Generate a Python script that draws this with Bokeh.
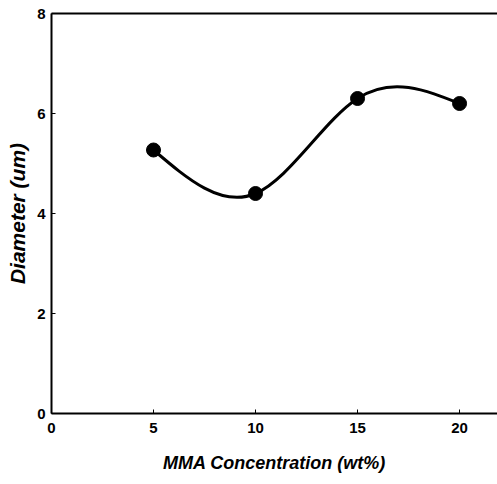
import numpy as np
from bokeh.plotting import figure
from bokeh.models import Range1d, LinearAxis, FixedTicker
from bokeh.embed import file_html
from bokeh.resources import INLINE

# Data
mma_conc = [5, 10, 15, 20]          # wt%
diameter = [5.27, 4.40, 6.30, 6.20]  # um
x_ticks = [0, 5, 10, 15, 20]
y_ticks = [0, 2, 4, 6, 8]

# Natural cubic spline through the data, drawn as exact Bezier segments
x = np.array(mma_conc, dtype=float)
y = np.array(diameter, dtype=float)
n = len(x)
h = np.diff(x)
A = np.zeros((n, n)); b = np.zeros(n)
A[0, 0] = 1; A[-1, -1] = 1
for i in range(1, n - 1):
    A[i, i - 1] = h[i - 1]
    A[i, i] = 2 * (h[i - 1] + h[i])
    A[i, i + 1] = h[i]
    b[i] = 6 * ((y[i + 1] - y[i]) / h[i] - (y[i] - y[i - 1]) / h[i - 1])
M = np.linalg.solve(A, b)
slopes = np.zeros(n)
for i in range(n - 1):
    slopes[i] = (y[i + 1] - y[i]) / h[i] - h[i] * (2 * M[i] + M[i + 1]) / 6
slopes[-1] = (y[-1] - y[-2]) / h[-1] + h[-1] * (M[-2] + 2 * M[-1]) / 6
x0 = x[:-1]; x1 = x[1:]; y0 = y[:-1]; y1 = y[1:]
cx0 = x0 + h / 3; cx1 = x1 - h / 3
cy0 = y0 + slopes[:-1] * h / 3; cy1 = y1 - slopes[1:] * h / 3

p = figure(width=497, height=484, output_backend="svg", toolbar_location=None,
           x_range=Range1d(0, 21.86), y_range=Range1d(0, 8),
           min_border_left=51, min_border_right=0, min_border_top=13, min_border_bottom=71)
p.outline_line_color = None
p.xgrid.visible = False
p.ygrid.visible = False
p.background_fill_color = "white"
p.border_fill_color = "white"

p.bezier(x0=x0, y0=y0, x1=x1, y1=y1, cx0=cx0, cy0=cy0, cx1=cx1, cy1=cy1,
         line_color="black", line_width=3)
p.scatter(mma_conc, diameter, size=14, color="black")

for ax in (p.xaxis[0], p.yaxis[0]):
    ax.axis_line_color = "black"
    ax.axis_line_width = 2
    ax.major_tick_in = 4
    ax.major_tick_out = 0
    ax.minor_tick_line_color = None
    ax.major_label_text_font = "Liberation Sans"
    ax.major_label_text_font_style = "bold"
    ax.major_label_text_font_size = "15px"
    ax.major_label_text_color = "black"
    ax.axis_label_text_font = "Liberation Sans"
    ax.axis_label_text_font_style = "bold italic"
    ax.axis_label_text_color = "black"

p.xaxis.axis_label_text_font_size = "18px"
p.yaxis.axis_label_text_font_size = "21px"
p.xaxis.ticker = FixedTicker(ticks=x_ticks)
p.yaxis.ticker = FixedTicker(ticks=y_ticks)
p.xaxis.axis_label = "MMA Concentration (wt%)"
p.yaxis.axis_label = "Diameter (um)"
p.xaxis.major_label_standoff = 9
p.yaxis.major_label_standoff = 6
p.xaxis.axis_label_standoff = 17
p.yaxis.axis_label_standoff = 5

top = LinearAxis(ticker=FixedTicker(ticks=[]), major_label_text_font_size="0px",
                 axis_line_width=2, axis_line_color="black",
                 major_tick_line_color=None, minor_tick_line_color=None)
p.add_layout(top, "above")

open("out.html", "w").write(file_html(p, INLINE))
